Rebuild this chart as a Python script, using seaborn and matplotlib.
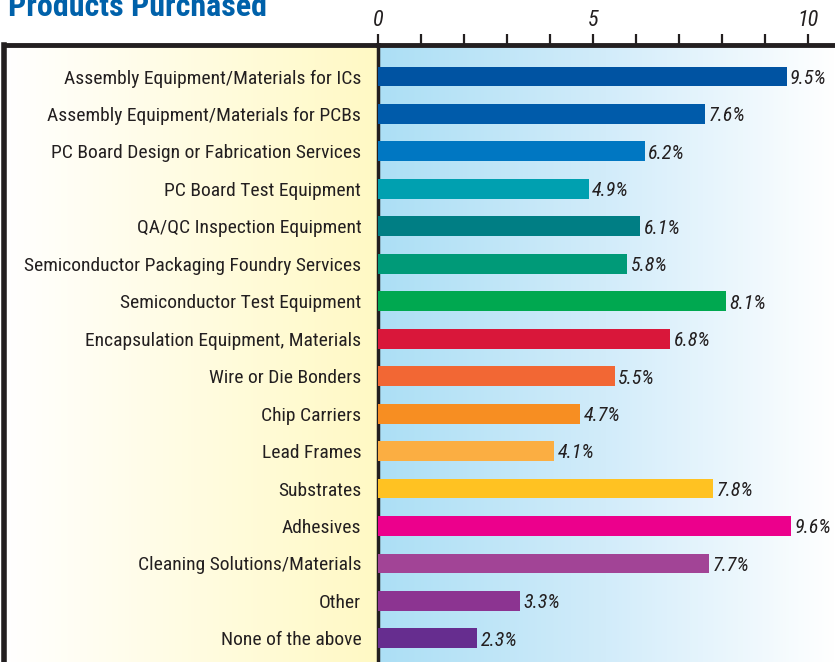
import numpy as np
import pandas as pd
import matplotlib
matplotlib.use("Agg")
import matplotlib.pyplot as plt
import seaborn as sns
from matplotlib.colors import LinearSegmentedColormap
from matplotlib.ticker import MultipleLocator, FixedLocator

categories = [
    "Assembly Equipment/Materials for ICs",
    "Assembly Equipment/Materials for PCBs",
    "PC Board Design or Fabrication Services",
    "PC Board Test Equipment",
    "QA/QC Inspection Equipment",
    "Semiconductor Packaging Foundry Services",
    "Semiconductor Test Equipment",
    "Encapsulation Equipment, Materials",
    "Wire or Die Bonders",
    "Chip Carriers",
    "Lead Frames",
    "Substrates",
    "Adhesives",
    "Cleaning Solutions/Materials",
    "Other",
    "None of the above",
]
values = [9.5, 7.6, 6.2, 4.9, 6.1, 5.8, 8.1, 6.8, 5.5, 4.7, 4.1, 7.8, 9.6, 7.7, 3.3, 2.3]
bar_colors = ["#0053A2", "#005BAA", "#0077C2", "#00A0B0", "#007E84", "#009A78",
              "#00A850", "#D9173A", "#F26734", "#F78E22", "#FBAE42", "#FFC222",
              "#EC008C", "#A24496", "#8C3491", "#662D8F"]
tick_labels = ["0", "5", "10"]

sns.set_theme(style="white")
fam = ["Liberation Sans Narrow", "Roboto Condensed", "DejaVu Sans"]
plt.rcParams['font.family'] = fam

W, H = 835, 662
fig = plt.figure(figsize=(W / 100, H / 100), dpi=100)
fig.patch.set_facecolor("white")

top_px = 45
x0_px = 378
ax_h = (H - top_px) / H

# left yellow panel
axl = fig.add_axes([4 / W, 0, (x0_px - 4) / W, ax_h])
grad_y = LinearSegmentedColormap.from_list("gy", ["#FFFFFF", "#FFF9C4"])
axl.imshow(np.linspace(0, 1, 256)[None, :], aspect="auto", cmap=grad_y,
           extent=[0, 1, 0, 1])
axl.set_xlim(0, 1); axl.set_ylim(0, 1)
axl.set_xticks([]); axl.set_yticks([])
for s in ["right", "bottom"]:
    axl.spines[s].set_visible(False)
axl.spines["left"].set_linewidth(4)
axl.spines["top"].set_linewidth(3.5)
for s in ["left", "top"]:
    axl.spines[s].set_color("#231F20")

# main plot
ax = fig.add_axes([x0_px / W, 0, (W - x0_px) / W, ax_h])
df = pd.DataFrame({"category": categories, "value": values})
sns.barplot(data=df, y="category", x="value", hue="category",
            palette=bar_colors, orient="h", width=0.53, legend=False,
            saturation=1, linewidth=0, edgecolor="none", ax=ax, zorder=3)

xmax = (W - x0_px) / 43.0
grad_b = LinearSegmentedColormap.from_list("gb", ["#ACDFF5", "#D2ECFA", "#FFFFFF"])
ax.imshow(np.linspace(0, 1, 256)[None, :], aspect="auto", cmap=grad_b,
          extent=[0, xmax, 15.63, -0.84], zorder=0)
ax.set_xlim(0, xmax)
ax.set_ylim(15.63, -0.84)

for i, v in enumerate(values):
    ax.text(v + 0.08, i + 0.05, f"{v}%", va="center", ha="left",
            fontsize=14.5, fontstyle="italic", color="#231F20", family=fam, zorder=4)

ax.set_xlabel(""); ax.set_ylabel("")
ax.xaxis.tick_top()
ax.xaxis.set_major_locator(FixedLocator([0, 5, 10]))
ax.set_xticklabels(tick_labels)
ax.xaxis.set_minor_locator(MultipleLocator(1))
ax.tick_params(axis="x", which="both", direction="out", length=8, width=1.6,
               color="#231F20", top=True, bottom=False)
ax.tick_params(axis="x", which="major", labelsize=16, pad=2, labelcolor="#231F20")
for lab in ax.get_xticklabels():
    lab.set_fontstyle("italic")
ax.tick_params(axis="y", length=0, pad=12, labelsize=14, labelcolor="#231F20")
for s in ["right", "bottom"]:
    ax.spines[s].set_visible(False)
ax.spines["left"].set_linewidth(2.5)
ax.spines["top"].set_linewidth(3.5)
for s in ["left", "top"]:
    ax.spines[s].set_color("#231F20")

fig.text(8 / W, 1 - 16 / H, "Products Purchased", fontsize=23, fontweight="bold",
         color="#0061AA", ha="left", va="baseline", family=fam)

fig.savefig("out.png", dpi=100)
